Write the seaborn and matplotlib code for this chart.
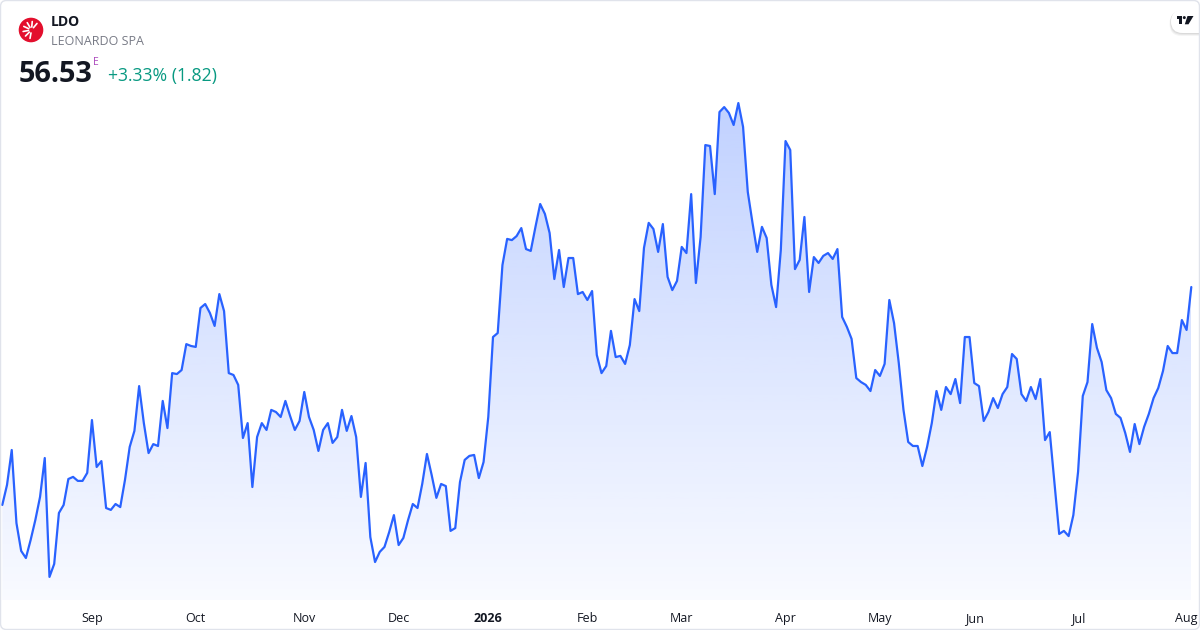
import numpy as np
import pandas as pd
import matplotlib.pyplot as plt
import seaborn as sns
from matplotlib.patches import Circle, FancyBboxPatch, Polygon, Rectangle


# LDO daily closes (EUR), Aug 2025 - Aug 2026
closes = [
    47.29, 48.14, 49.62, 46.52, 45.34, 45.04, 45.80, 46.65, 47.63, 49.28,
    44.24, 44.79, 46.95, 47.29, 48.39, 48.48, 48.31, 48.31, 48.65, 50.89,
    48.90, 49.15, 47.16, 47.08, 47.33, 47.20, 48.35, 49.75, 50.43, 52.33,
    50.76, 49.49, 49.87, 49.79, 51.70, 50.55, 52.88, 52.84, 53.01, 54.11,
    54.03, 53.99, 55.64,
    55.81, 55.43, 54.88, 56.23, 55.51, 52.88, 52.80, 52.38, 50.13, 50.76,
    48.05, 50.17, 50.76, 50.47, 51.32, 51.23, 51.02, 51.70, 51.06, 50.47,
    50.85, 52.08, 51.02, 50.47, 49.58, 50.47, 50.76, 49.92, 50.17, 51.32,
    50.43, 51.06, 50.17, 47.63, 49.07, 45.93, 44.87, 45.30, 45.51, 46.14,
    46.86, 45.59,
    45.89, 46.65, 47.33, 47.16, 48.18, 49.45, 48.56, 47.59, 48.18, 48.09,
    46.19, 46.31, 48.26, 49.20, 49.37, 49.41, 48.43, 49.11, 51.02, 54.41,
    54.58, 57.46, 58.57, 58.52, 58.69, 59.03, 58.14, 58.06, 59.08, 60.05,
    59.63, 58.82, 56.87, 58.10, 56.53, 57.76, 57.76, 56.23, 56.32, 55.98,
    56.36, 53.65, 52.88, 53.18, 54.67, 53.56, 53.61, 53.27, 54.07, 56.02,
    55.51, 58.19, 59.25, 58.99, 58.02, 59.20, 56.96, 56.40, 56.79, 58.23,
    57.97, 60.47, 56.70, 58.65, 62.55, 62.51, 60.47, 63.95, 64.16, 63.91,
    63.40, 64.33, 63.32, 60.56, 59.25, 58.02, 59.08, 58.61, 56.62, 55.68,
    58.10, 62.72, 62.34, 57.29, 57.68, 59.50, 56.32, 57.80, 57.55, 57.85,
    57.97, 57.72, 58.14, 55.26, 54.84, 54.33, 52.67, 52.50, 52.38, 52.12,
    53.01, 52.76, 53.27, 55.98, 55.00, 53.31, 51.32, 49.96, 49.79, 49.79,
    48.94, 49.75, 50.76, 52.12, 51.32, 52.29, 51.99, 52.63, 51.61, 54.41,
    54.41,
    52.46, 52.33, 50.85, 51.23, 51.82, 51.40, 51.99, 52.29, 53.69, 53.48,
    51.99, 51.70, 52.29, 51.78, 52.63, 50.04, 50.38, 48.22, 46.06, 46.19,
    45.97, 46.86, 48.69, 51.91, 52.50, 54.96, 53.95, 53.35, 52.16, 51.82,
    51.15, 50.98, 50.34, 49.54, 50.72, 49.87, 50.60, 51.15, 51.82, 52.25,
    52.97, 54.03, 53.73, 53.73, 55.13, 54.71, 56.53,
]

# Borsa Italiana closing days in the period
holidays = ['2025-08-15', '2025-12-24', '2025-12-25', '2025-12-26', '2025-12-31',
            '2026-01-01', '2026-04-03', '2026-04-06', '2026-05-01']
dates = pd.bdate_range('2025-08-04', '2026-08-04', freq='C', holidays=holidays)

ticker = 'LDO'
company = 'LEONARDO SPA'
last_price = '56.53'
change_text = '+3.33% (1.82)'

line_color = '#2962ff'

sns.set_theme(style='white')
plt.rcParams['font.family'] = ['Open Sans', 'DejaVu Sans']

fig = plt.figure(figsize=(12, 6.3), dpi=100)
ax = fig.add_axes([0, 30 / 630, 1, 600 / 630])

df = pd.DataFrame({'bar': np.arange(len(closes)), 'close': closes, 'date': dates})
ybot, ytop = 43.26, 68.70

# gradient area under the line
grad = np.zeros((256, 1, 4))
grad[..., 0], grad[..., 1], grad[..., 2] = 41 / 255, 98 / 255, 1.0
grad[:, 0, 3] = np.linspace(0.29, 0.03, 256)
im = ax.imshow(grad, aspect='auto', origin='upper', zorder=1,
               extent=[df.bar.iloc[0], df.bar.iloc[-1], ybot, df.close.max()])
verts = np.column_stack([np.r_[df.bar.iloc[0], df.bar, df.bar.iloc[-1]],
                         np.r_[ybot, df.close, ybot]])
clip = Polygon(verts, closed=True, facecolor='none', edgecolor='none')
ax.add_patch(clip)
im.set_clip_path(clip)

sns.lineplot(data=df, x='bar', y='close', ax=ax, color=line_color, linewidth=1.6, zorder=3)

px = 4.718  # pixels per bar
ax.set_xlim(-2.3 / px, len(closes) - 1 + 8.7 / px)
ax.set_ylim(ybot, ytop)

# month ticks on the first trading day of each month
starts = [i for i in range(1, len(dates)) if dates[i].month != dates[i - 1].month]
labels = [str(dates[i].year) if dates[i].month == 1 else dates[i].strftime('%b') for i in starts]
ax.set_xticks(starts)
ax.set_xticklabels(labels, fontsize=9, color='#131722')
for t, i in zip(ax.get_xticklabels(), starts):
    if dates[i].month == 1:
        t.set_fontweight('bold')
ax.tick_params(axis='x', length=0, pad=8.5)
ax.set_yticks([])
ax.set_xlabel('')
ax.set_ylabel('')
sns.despine(ax=ax, left=True, bottom=True)

# header / decorations in pixel coordinates
ov = fig.add_axes([0, 0, 1, 1], zorder=5)
ov.set_xlim(0, 1200)
ov.set_ylim(630, 0)
ov.axis('off')
ov.patch.set_alpha(0)

ov.add_patch(Circle((31, 30), 12.3, color='#e30f2d', lw=0))
for a in np.deg2rad([100, 135, 170, 205, 240, 275, 310]):
    ov.plot([31.5 + 3 * np.cos(a), 31.5 + 8.5 * np.cos(a)],
            [30 + 3 * np.sin(a), 30 + 8.5 * np.sin(a)],
            color='white', lw=1.2, solid_capstyle='round')

ov.text(51, 26.5, ticker, fontsize=10, fontweight='bold', color='#131722', va='baseline')
ov.text(51, 45, company, fontsize=9, color='#787b86', va='baseline')
ov.text(18.5, 82, last_price, fontsize=20.8, fontweight='bold', color='#131722', va='baseline')
ov.text(93.3, 65, 'E', fontsize=7.5, color='#ab47bc', va='baseline')
ov.text(108.5, 81.5, change_text, fontsize=12.7, color='#089981', va='baseline')

# TradingView badge
for off, a in [(3.0, 0.04), (2.0, 0.05), (1.0, 0.06)]:
    ov.add_patch(FancyBboxPatch((1171 - off / 2, 10 + off / 2), 45, 23 + off / 2,
                                boxstyle='round,pad=0,rounding_size=12',
                                facecolor='#000000', alpha=a, lw=0))
ov.add_patch(FancyBboxPatch((1171, 10), 45, 23, boxstyle='round,pad=0,rounding_size=11.5',
                            facecolor='white', lw=0))
ov.add_patch(Rectangle((1176.7, 16), 5.6, 3, color='#131722', lw=0))
ov.add_patch(Rectangle((1179.3, 16), 3, 8.3, color='#131722', lw=0))
ov.add_patch(Circle((1184.3, 17.6), 1.5, color='#131722', lw=0))
ov.add_patch(Polygon([(1187.5, 16), (1193.5, 16), (1188.5, 24.3), (1184.8, 24.3)],
                     closed=True, color='#131722', lw=0))

# outer frame
ov.add_patch(FancyBboxPatch((0.5, 0.5), 1199, 629, boxstyle='round,pad=0,rounding_size=6',
                            facecolor='none', edgecolor='#e0e3eb', lw=1))

fig.savefig('out.png', dpi=100)
